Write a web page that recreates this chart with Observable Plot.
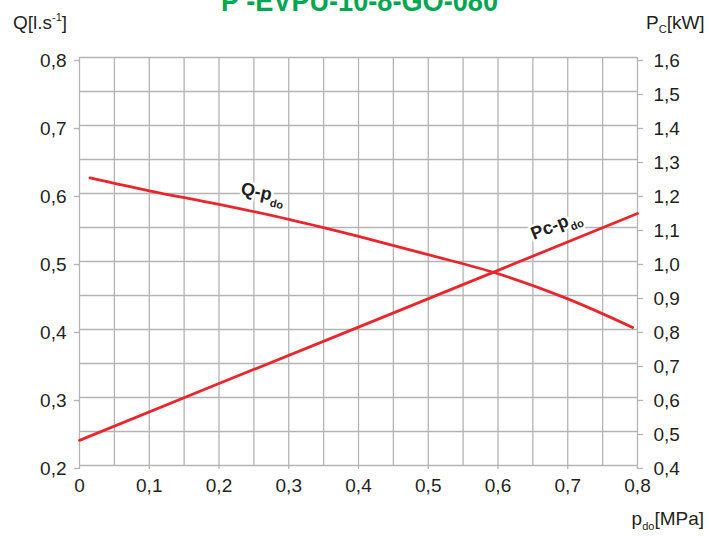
<!DOCTYPE html>
<html><head><meta charset="utf-8">
<script src="https://cdn.jsdelivr.net/npm/d3@7"></script>
<script src="https://cdn.jsdelivr.net/npm/@observablehq/plot@0.6"></script>
<style>
body{margin:0;background:#fff;}
#chart{position:relative;width:709px;height:536px;overflow:hidden;}
</style></head><body><div id="chart"></div>
<script>
// Data
const qPressure = [0.015, 0.1, 0.2, 0.3, 0.4, 0.5, 0.6, 0.7, 0.793];
const qFlow     = [0.623, 0.604, 0.584, 0.562, 0.537, 0.510, 0.482, 0.445, 0.403];
const pcPressure = [0.0, 0.2, 0.4, 0.6, 0.8];
const pcPower    = [0.474, 0.641, 0.807, 0.974, 1.141];
const xTicks  = [0, 0.1, 0.2, 0.3, 0.4, 0.5, 0.6, 0.7, 0.8];
const qTicks  = [0.2, 0.3, 0.4, 0.5, 0.6, 0.7, 0.8];
const pcTicks = [0.4, 0.5, 0.6, 0.7, 0.8, 0.9, 1.0, 1.1, 1.2, 1.3, 1.4, 1.5, 1.6];
const gridX = [0, 0.05, 0.1, 0.15, 0.2, 0.25, 0.3, 0.35, 0.4, 0.45, 0.5, 0.55, 0.6, 0.65, 0.7, 0.75, 0.8];
const gridY = [0.2, 0.25, 0.3, 0.35, 0.4, 0.45, 0.5, 0.55, 0.6, 0.65, 0.7, 0.75, 0.8];
const title = "P -EVPU-10-8-GO-080";

const qData = qPressure.map((p, i) => ({p, v: qFlow[i]}));
const pcData = pcPressure.map((p, i) => ({p, v: pcPower[i] / 2})); // Pc shares the Q scale (Pc = 2·Q)

const fmt = d => d.toFixed(1).replace(".", ",");
const red = "#e8262b", grid = "#b4b4b4", ink = "#231f20";
const font = "'Liberation Sans', Arial, sans-serif";

const plot = Plot.plot({
  width: 709, height: 536,
  marginLeft: 79, marginRight: 72, marginTop: 57, marginBottom: 71,
  x: {domain: [0, 0.8]},
  y: {domain: [0.2, 0.8]},
  style: {fontFamily: font, fontSize: "19px", color: ink, background: "#fff", overflow: "visible"},
  marks: [
    Plot.gridX(gridX, {stroke: grid, strokeOpacity: 1, strokeWidth: 1.3}),
    Plot.gridY(gridY, {stroke: grid, strokeOpacity: 1, strokeWidth: 1.3}),
    Plot.axisX(xTicks, {tickSize: 4, tickPadding: 9, stroke: grid, strokeWidth: 1.3, fill: ink,
      tickFormat: d => d === 0 ? "0" : fmt(d), label: null}),
    Plot.axisY(qTicks, {anchor: "left", tickSize: 5, tickPadding: 8, stroke: grid, strokeWidth: 1.3, fill: ink,
      dy: 3, tickFormat: fmt, label: null}),
    Plot.axisY(pcTicks.map(t => t / 2), {anchor: "right", tickSize: 5, tickPadding: 11, stroke: grid, strokeWidth: 1.3, fill: ink,
      dy: 3, tickFormat: d => fmt(d * 2), label: null}),
    Plot.line(qData, {x: "p", y: "v", stroke: red, strokeWidth: 2.8, curve: "catmull-rom"}),
    Plot.line(pcData, {x: "p", y: "v", stroke: red, strokeWidth: 2.8})
  ]
});
document.getElementById("chart").appendChild(plot);

const svg = d3.select(plot);
const xs = plot.scale("x"), ys = plot.scale("y");

// Title (clipped at the top as in the reference)
svg.append("text").attr("x", 221).attr("y", 11).attr("text-anchor", "start")
  .attr("font-family", "'Liberation Sans', Arial, sans-serif")
  .attr("font-weight", "bold").attr("font-size", 30).attr("fill", "#00a651")
  .attr("textLength", 277).attr("lengthAdjust", "spacingAndGlyphs")
  .text(title);

// Q[l.s-1]
{
  const t = svg.append("text").attr("x", 13).attr("y", 29).attr("text-anchor", "start")
    .attr("font-family", font).attr("font-size", 19).attr("fill", ink);
  t.append("tspan").text("Q[l.s");
  t.append("tspan").text("-1").attr("font-size", 11).attr("dy", -8);
  t.append("tspan").text("]").attr("dy", 8);
}
// Pc[kW]
{
  const t = svg.append("text").attr("x", 646).attr("y", 29).attr("text-anchor", "start")
    .attr("font-family", font).attr("font-size", 19).attr("fill", ink);
  t.append("tspan").text("P");
  t.append("tspan").text("C").attr("font-size", 11).attr("dy", 4);
  t.append("tspan").text("[kW]").attr("dy", -4);
}
// pdo[MPa]
{
  const t = svg.append("text").attr("x", 704).attr("y", 525).attr("text-anchor", "end")
    .attr("font-family", font).attr("font-size", 19).attr("fill", ink);
  t.append("tspan").text("p");
  t.append("tspan").text("do").attr("font-size", 11).attr("dy", 5);
  t.append("tspan").text("[MPa]").attr("dy", -5);
}

// Curve labels
function curveLabel(px, py, angle, main) {
  const x = xs.apply(px), y = ys.apply(py);
  const t = svg.append("text").attr("transform", `translate(${x},${y}) rotate(${angle})`)
    .attr("text-anchor", "start")
    .attr("font-family", font).attr("font-weight", "bold").attr("font-size", 18).attr("fill", ink)
    .attr("stroke", "#fff").attr("stroke-width", 5).attr("paint-order", "stroke").attr("stroke-linejoin", "round");
  t.append("tspan").text(main);
  t.append("tspan").text("do").attr("font-size", 11).attr("dy", 6);
}
curveLabel(0.231, 0.5985, 12, "Q-p");
curveLabel(0.652, 0.531, -22, "Pc-p");
</script>
</body></html>
